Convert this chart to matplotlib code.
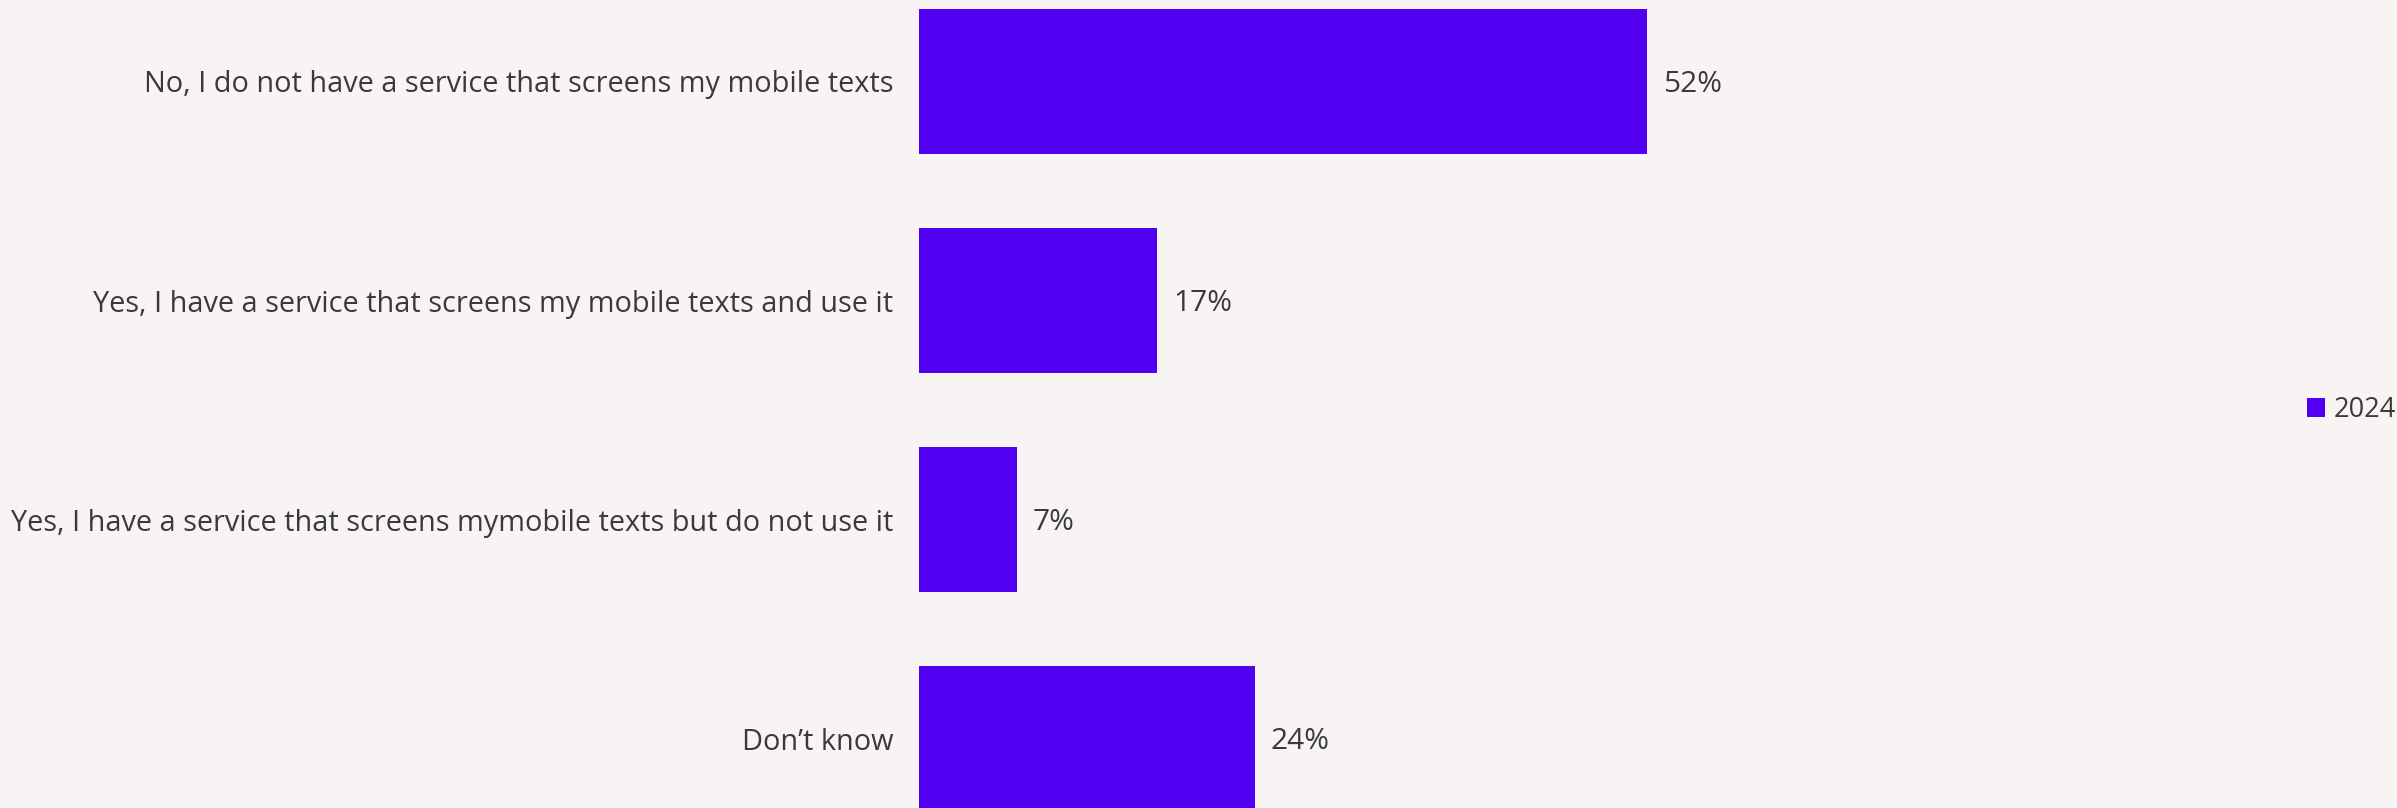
import matplotlib
matplotlib.use("Agg")
import matplotlib.pyplot as plt
from matplotlib.patches import Patch

categories = [
    "No, I do not have a service that screens my mobile texts",
    "Yes, I have a service that screens my mobile texts and use it",
    "Yes, I have a service that screens mymobile texts but do not use it",
    "Don\u2019t know",
]
values = [52, 17, 7, 24]
series_name = "2024"

BG = "#f8f4f3"
BAR = "#5100f1"
TXT = "#3a3a3a"

W, H, DPI = 2397, 808, 100
fig = plt.figure(figsize=(W / DPI, H / DPI), dpi=DPI, facecolor=BG)

left_px = 919
ax = fig.add_axes([left_px / W, 0, 1 - left_px / W, 1])
ax.set_facecolor(BG)

ypos = list(range(len(categories)))
ax.barh(ypos, values, height=0.662, color=BAR, edgecolor="none")

ax.set_xlim(0, (W - left_px) / 14.0)
ax.set_ylim(3.317, -0.372)

ax.set_yticks(ypos)
ax.set_yticklabels(categories, fontsize=20.8, color=TXT, family="Open Sans")
ax.tick_params(axis="y", length=0, pad=18.7)
ax.set_xticks([])
for s in ax.spines.values():
    s.set_visible(False)

for y, v in zip(ypos, values):
    ax.annotate(f"{v}%", xy=(v, y), xytext=(16, -3), textcoords="offset pixels",
                ha="left", va="center", fontsize=21.5, color=TXT, family="Open Sans")

handle = Patch(facecolor=BAR, edgecolor="none")
fig.legend([handle], [series_name], loc="center right",
           bbox_to_anchor=(2396 / W, 398 / H), frameon=False,
           borderaxespad=0, borderpad=0, handlelength=0.67, handleheight=0.67,
           handletextpad=0.33, prop={"family": "Open Sans", "size": 19.5},
           labelcolor=TXT)

fig.savefig("out.png", dpi=DPI, facecolor=BG)
